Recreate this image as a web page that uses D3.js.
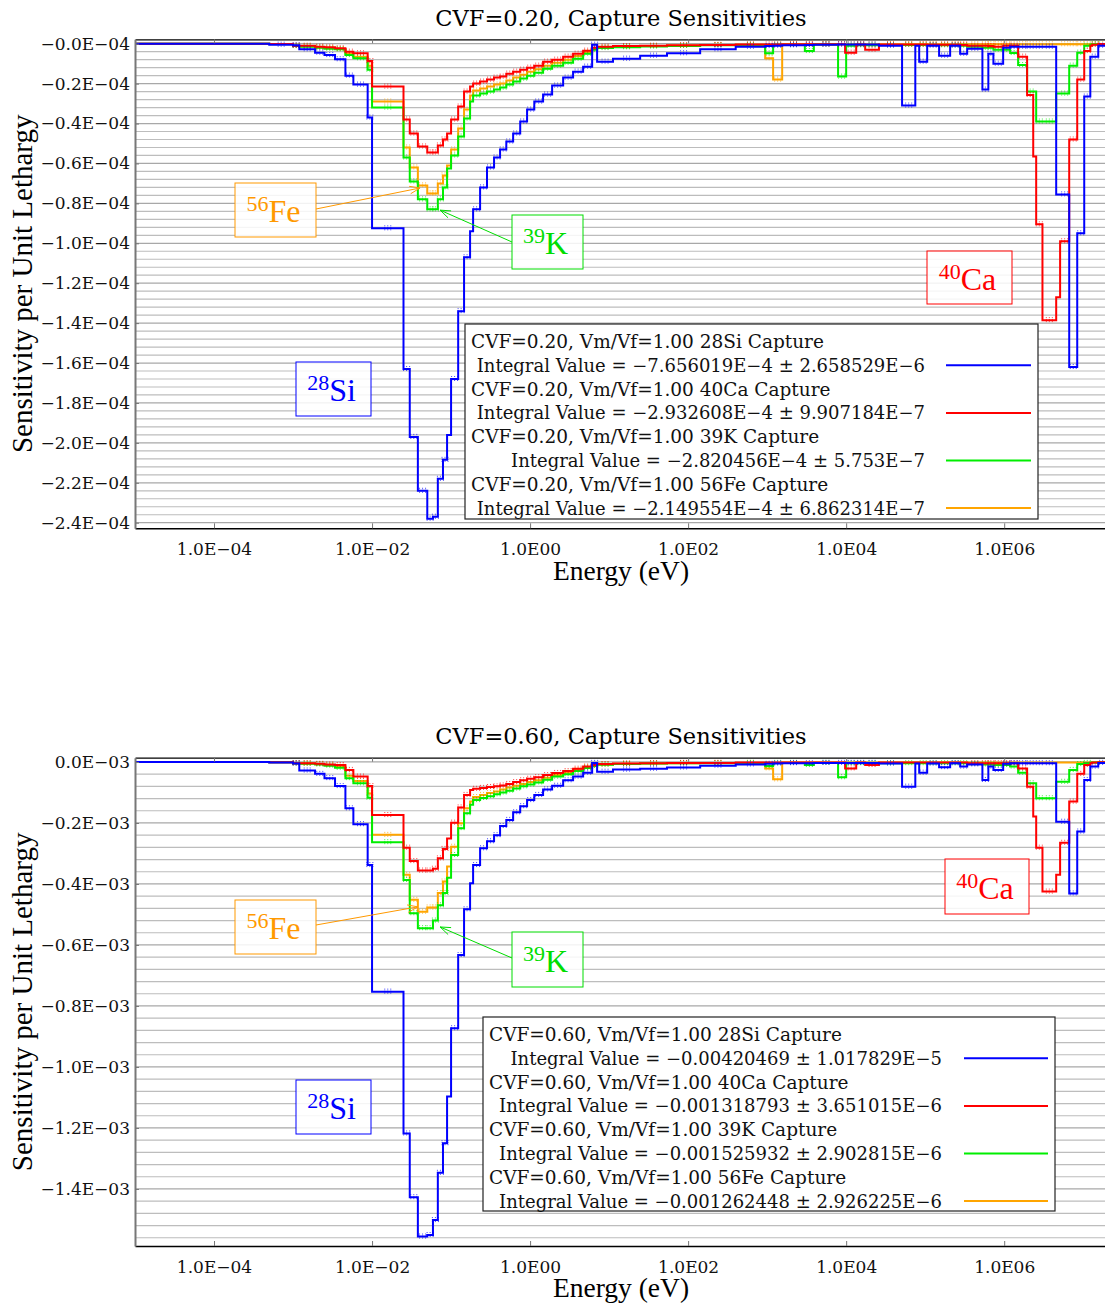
<!DOCTYPE html>
<html>
<head>
<meta charset="utf-8">
<script src="https://cdn.jsdelivr.net/npm/d3@7"></script>
<style>
  body { margin: 0; background: #fff; }
  svg text { font-family: "DejaVu Serif", serif; }
  .lbl text { font-family: "Liberation Serif", "Times New Roman", serif; }
</style>
</head>
<body>
<div id="wrapper"></div>
<script>
// energy group boundaries (eV), shared by every series
const energyEdges = [1e-5, 5e-4, 1e-3, 1.2e-3, 1.9e-3, 2.5e-3, 3.4e-3, 4.6e-3, 5.8e-3, 8.8e-3,
  0.01, 0.025, 0.03, 0.038, 0.05, 0.059, 0.068, 0.079, 0.089, 0.1,
  0.123, 0.146, 0.174, 0.19, 0.233, 0.285, 0.35, 0.417, 0.5, 0.61,
  0.75, 0.916, 1.13, 1.46, 1.9, 2.62, 3.5, 4.69, 6.1, 7.05,
  11.2, 24.7, 54, 142, 400, 944, 1190, 1550, 3000, 3900,
  7900, 9700, 1.0e4, 1.34e4, 1.74e4, 2.6e4, 5.1e4, 7.5e4, 8.4e4, 1.06e5,
  1.5e5, 2.07e5, 2.77e5, 3.4e5, 5.3e5, 6.3e5, 7.3e5, 9.7e5, 1.19e6, 1.5e6,
  1.95e6, 2.33e6, 2.54e6, 3.05e6, 4.55e6, 5.1e6, 6.65e6, 8.4e6, 1.03e7, 1.23e7,
  1.3e7, 1.55e7, 2e7]

// CVF=0.20 sensitivities, units of 1E-04 per unit lethargy
const si020 = [0, -0.005, -0.008, -0.028, -0.045, -0.057, -0.078, -0.16, -0.205, -0.37,
  -0.925, -1.63, -1.97, -2.24, -2.38, -2.37, -2.18, -2.085, -1.96, -1.68,
  -1.34, -1.07, -0.94, -0.83, -0.72, -0.62, -0.57, -0.53, -0.49, -0.45,
  -0.39, -0.33, -0.29, -0.255, -0.21, -0.17, -0.14, -0.115, -0.005, -0.09,
  -0.075, -0.06, -0.048, -0.028, -0.015, -0.012, -0.01, -0.008, -0.006, -0.005,
  -0.004, -0.004, -0.004, -0.004, -0.004, -0.01, -0.31, -0.01, -0.09, -0.01,
  -0.06, -0.01, -0.05, -0.025, -0.23, -0.05, -0.1, -0.02, -0.015, -0.015,
  -0.015, -0.015, -0.015, -0.015, -0.755, -0.755, -1.62, -0.95, -0.265, -0.065,
  -0.065, -0.01]
const ca020 = [0, -0.002, -0.01, -0.01, -0.015, -0.018, -0.023, -0.04, -0.048, -0.087,
  -0.215, -0.38, -0.45, -0.515, -0.545, -0.545, -0.51, -0.48, -0.45, -0.38,
  -0.315, -0.24, -0.215, -0.2, -0.19, -0.18, -0.17, -0.165, -0.15, -0.14,
  -0.13, -0.12, -0.11, -0.09, -0.08, -0.065, -0.05, -0.035, -0.02, -0.015,
  -0.012, -0.01, -0.008, -0.006, -0.004, -0.004, -0.004, -0.003, -0.003, -0.003,
  -0.003, -0.045, -0.045, -0.004, -0.03, -0.004, -0.004, -0.004, -0.004, -0.005,
  -0.005, -0.005, -0.006, -0.01, -0.01, -0.012, -0.015, -0.01, -0.01, -0.065,
  -0.257, -0.565, -0.905, -1.385, -1.27, -0.99, -0.48, -0.18, -0.037, -0.01,
  -0.005, -0.002]
const k020 = [0, -0.002, -0.012, -0.015, -0.02, -0.025, -0.028, -0.057, -0.073, -0.13,
  -0.32, -0.57, -0.69, -0.78, -0.83, -0.83, -0.78, -0.72, -0.625, -0.56,
  -0.465, -0.375, -0.29, -0.26, -0.25, -0.24, -0.23, -0.22, -0.205, -0.19,
  -0.175, -0.16, -0.145, -0.125, -0.11, -0.095, -0.075, -0.05, -0.03, -0.022,
  -0.018, -0.014, -0.011, -0.008, -0.006, -0.048, -0.005, -0.005, -0.037, -0.004,
  -0.165, -0.165, -0.01, -0.008, -0.008, -0.006, -0.006, -0.006, -0.006, -0.006,
  -0.008, -0.008, -0.01, -0.015, -0.02, -0.02, -0.03, -0.03, -0.047, -0.107,
  -0.24, -0.24, -0.39, -0.39, -0.25, -0.25, -0.11, -0.045, -0.01, -0.005,
  -0.003, -0.002]
const fe020 = [0, -0.002, -0.01, -0.013, -0.018, -0.022, -0.027, -0.05, -0.065, -0.11,
  -0.29, -0.52, -0.62, -0.71, -0.75, -0.75, -0.7, -0.66, -0.61, -0.53,
  -0.425, -0.33, -0.26, -0.235, -0.225, -0.215, -0.205, -0.2, -0.185, -0.17,
  -0.155, -0.14, -0.128, -0.11, -0.095, -0.08, -0.062, -0.042, -0.025, -0.018,
  -0.015, -0.012, -0.009, -0.007, -0.005, -0.073, -0.18, -0.004, -0.004, -0.003,
  -0.003, -0.003, -0.003, -0.003, -0.003, -0.003, -0.003, -0.003, -0.003, -0.003,
  -0.003, -0.003, -0.003, -0.003, -0.003, -0.003, -0.003, -0.003, -0.003, -0.003,
  -0.003, -0.003, -0.003, -0.003, -0.003, -0.003, -0.003, -0.003, -0.003, -0.003,
  -0.003, -0.003]

// CVF=0.60 sensitivities, units of 1E-03 per unit lethargy
const si060 = [0, -0.002, -0.005, -0.028, -0.039, -0.053, -0.079, -0.152, -0.204, -0.338,
  -0.753, -1.218, -1.427, -1.556, -1.551, -1.502, -1.347, -1.25, -1.097, -0.873,
  -0.633, -0.483, -0.398, -0.338, -0.283, -0.26, -0.24, -0.21, -0.19, -0.165,
  -0.145, -0.125, -0.108, -0.09, -0.078, -0.06, -0.048, -0.035, -0.003, -0.032,
  -0.025, -0.022, -0.018, -0.012, -0.008, -0.006, -0.005, -0.004, -0.004, -0.003,
  -0.003, -0.003, -0.003, -0.003, -0.003, -0.005, -0.081, -0.005, -0.035, -0.005,
  -0.017, -0.004, -0.015, -0.008, -0.059, -0.015, -0.026, -0.006, -0.004, -0.004,
  -0.004, -0.004, -0.004, -0.004, -0.196, -0.196, -0.431, -0.228, -0.059, -0.015,
  -0.015, -0.003]
const ca060 = [0, -0.001, -0.004, -0.004, -0.006, -0.008, -0.01, -0.026, -0.048, -0.079,
  -0.174, -0.281, -0.325, -0.356, -0.356, -0.35, -0.316, -0.285, -0.251, -0.199,
  -0.149, -0.108, -0.092, -0.088, -0.085, -0.082, -0.08, -0.077, -0.072, -0.066,
  -0.06, -0.055, -0.05, -0.043, -0.036, -0.03, -0.022, -0.015, -0.01, -0.007,
  -0.005, -0.004, -0.003, -0.003, -0.002, -0.002, -0.002, -0.002, -0.002, -0.002,
  -0.002, -0.021, -0.021, -0.002, -0.01, -0.002, -0.002, -0.002, -0.002, -0.002,
  -0.002, -0.002, -0.002, -0.004, -0.004, -0.004, -0.004, -0.004, -0.004, -0.021,
  -0.081, -0.179, -0.281, -0.425, -0.37, -0.265, -0.13, -0.039, -0.01, -0.004,
  -0.002, -0.001]
const k060 = [0, -0.001, -0.005, -0.006, -0.008, -0.012, -0.019, -0.053, -0.07, -0.117,
  -0.263, -0.387, -0.496, -0.545, -0.545, -0.52, -0.47, -0.43, -0.38, -0.305,
  -0.217, -0.168, -0.14, -0.125, -0.118, -0.112, -0.106, -0.1, -0.094, -0.087,
  -0.08, -0.074, -0.067, -0.058, -0.048, -0.04, -0.03, -0.02, -0.013, -0.009,
  -0.007, -0.005, -0.004, -0.004, -0.003, -0.013, -0.003, -0.003, -0.01, -0.003,
  -0.05, -0.05, -0.004, -0.004, -0.004, -0.004, -0.004, -0.004, -0.004, -0.004,
  -0.004, -0.004, -0.004, -0.006, -0.008, -0.008, -0.01, -0.01, -0.015, -0.035,
  -0.07, -0.07, -0.119, -0.119, -0.065, -0.065, -0.026, -0.007, -0.003, -0.002,
  -0.002, -0.002]
const fe060 = [0, -0.001, -0.004, -0.005, -0.007, -0.01, -0.015, -0.045, -0.062, -0.103,
  -0.239, -0.37, -0.452, -0.491, -0.477, -0.477, -0.43, -0.392, -0.343, -0.278,
  -0.201, -0.152, -0.13, -0.115, -0.108, -0.102, -0.097, -0.09, -0.084, -0.078,
  -0.072, -0.066, -0.06, -0.052, -0.043, -0.035, -0.026, -0.017, -0.011, -0.008,
  -0.006, -0.005, -0.004, -0.003, -0.003, -0.021, -0.057, -0.002, -0.002, -0.002,
  -0.002, -0.002, -0.002, -0.002, -0.002, -0.002, -0.002, -0.002, -0.002, -0.002,
  -0.002, -0.002, -0.002, -0.002, -0.002, -0.002, -0.002, -0.002, -0.002, -0.002,
  -0.002, -0.002, -0.002, -0.002, -0.002, -0.002, -0.002, -0.002, -0.002, -0.002,
  -0.002, -0.002]

const xTickValues = [1e-4, 1e-2, 1, 1e2, 1e4, 1e6]
const xTickLabels = ["1.0E−04", "1.0E−02", "1.0E00", "1.0E02", "1.0E04", "1.0E06"]

const yTicks020 = [0, -0.2, -0.4, -0.6, -0.8, -1.0, -1.2, -1.4, -1.6, -1.8, -2.0, -2.2, -2.4]
const yTickLabels020 = ["−0.0E−04", "−0.2E−04", "−0.4E−04", "−0.6E−04", "−0.8E−04", "−1.0E−04",
  "−1.2E−04", "−1.4E−04", "−1.6E−04", "−1.8E−04", "−2.0E−04", "−2.2E−04", "−2.4E−04"]
const yTicks060 = [0, -0.2, -0.4, -0.6, -0.8, -1.0, -1.2, -1.4]
const yTickLabels060 = ["0.0E−03", "−0.2E−03", "−0.4E−03", "−0.6E−03", "−0.8E−03", "−1.0E−03",
  "−1.2E−03", "−1.4E−03"]

const isotopes = ["28Si", "40Ca", "39K", "56Fe"]
const seriesColors = ["#0000ff", "#ff0000", "#00ee00", "#ffa500"]
const integral020 = ["−7.656019E−4 ± 2.658529E−6", "−2.932608E−4 ± 9.907184E−7",
  "−2.820456E−4 ± 5.753E−7", "−2.149554E−4 ± 6.862314E−7"]
const integral060 = ["−0.00420469 ± 1.017829E−5", "−0.001318793 ± 3.651015E−6",
  "−0.001525932 ± 2.902815E−6", "−0.001262448 ± 2.926225E−6"]

const panels = [
  {
    cvf: "0.20", series: [si020, ca020, k020, fe020], integrals: integral020,
    yTicks: yTicks020, yTickLabels: yTickLabels020, yDomain: [-2.428, 0.022], minorStep: 0.04,
    top: 39.3, bottom: 528.3, titleY: 26, xLabelY: 580, xTickY: 543,
    legend: {x0: 465, y0: 324, x1: 1038, y1: 519, textRight: 925, lineX: [946, 1031]},
    labels: [
      {mass: "56", sym: "Fe", color: "#ff9900", box: [235, 183, 316, 237], from: [316, 209], to: [0.0405, -0.723]},
      {mass: "39", sym: "K", color: "#00dd00", box: [512, 215, 583, 269], from: [512, 242], to: [0.0727, -0.834]},
      {mass: "28", sym: "Si", color: "#0000ff", box: [296, 362, 371, 416]},
      {mass: "40", sym: "Ca", color: "#ff0000", box: [927, 251, 1012, 304]}
    ]
  },
  {
    cvf: "0.60", series: [si060, ca060, k060, fe060], integrals: integral060,
    yTicks: yTicks060, yTickLabels: yTickLabels060, yDomain: [-1.587, 0.014], minorStep: 0.04,
    top: 757.7, bottom: 1246, titleY: 744, xLabelY: 1297, xTickY: 1261,
    legend: {x0: 483, y0: 1017, x1: 1055, y1: 1211, textRight: 942, lineX: [964, 1048]},
    labels: [
      {mass: "56", sym: "Fe", color: "#ff9900", box: [235, 900, 316, 954], from: [316, 925], to: [0.038, -0.475]},
      {mass: "39", sym: "K", color: "#00dd00", box: [512, 932, 583, 987], from: [512, 958], to: [0.0727, -0.541]},
      {mass: "28", sym: "Si", color: "#0000ff", box: [296, 1080, 371, 1134]},
      {mass: "40", sym: "Ca", color: "#ff0000", box: [945, 859, 1029, 914]}
    ]
  }
]

const width = 1105, height = 1304
const svg = d3.select("#wrapper").append("svg")
    .attr("width", width)
    .attr("height", height)

const xScale = d3.scaleLog()
    .domain([1e-5, 2e7])
    .range([135, 1107])

function drawPanel(p, pi) {
  const yScale = d3.scaleLinear()
      .domain(p.yDomain)
      .range([p.bottom, p.top])

  const g = svg.append("g")

  //grid lines
  const gridVals = d3.range(0, p.yDomain[0], -p.minorStep)
  g.append("g").selectAll("line")
      .data(gridVals).enter().append("line")
          .attr("x1", 135).attr("x2", width)
          .attr("y1", d => yScale(d)).attr("y2", d => yScale(d))
          .attr("stroke", (d, i) => i % 5 == 0 ? "#a8a8a8" : "#bdbdbd")
          .attr("stroke-width", 1.2)

  //curves
  const clipId = "clip" + pi
  svg.append("clipPath").attr("id", clipId)
    .append("rect")
      .attr("x", 135).attr("y", p.top - 2)
      .attr("width", width - 135).attr("height", p.bottom - p.top + 2)

  const line = d3.line()
      .x(d => xScale(d[0]))
      .y(d => yScale(d[1]))
      .curve(d3.curveStepAfter)

  const plot = g.append("g").attr("clip-path", `url(#${clipId})`)
  const order = [3, 2, 1, 0]
  order.forEach(si => {
    const vals = p.series[si]
    const pts = vals.map((v, i) => [energyEdges[i], v])
    pts.push([energyEdges[vals.length], vals[vals.length - 1]])
    plot.append("path")
        .attr("d", line(pts))
        .attr("fill", "none")
        .attr("stroke", seriesColors[si])
        .attr("stroke-width", 2)

    // small error hashes at bin centres
    const bars = plot.append("g")
        .attr("stroke", seriesColors[si])
        .attr("stroke-width", 1)
        .attr("stroke-dasharray", "1,1")
        .attr("opacity", 0.75)
    vals.forEach((v, i) => {
      const xa = xScale(energyEdges[i]), xb = xScale(energyEdges[i + 1])
      if (xb - xa < 4 || v > -0.003) return
      const xc = (xa + xb) / 2, yc = yScale(v)
      bars.append("path")
          .attr("d", `M${xc - 3},${yc - 3}V${yc + 3}M${xc},${yc - 3}V${yc + 3}M${xc + 3},${yc - 3}V${yc + 3}`)
    })
  })

  //axes
  const xAxisGenerator = d3.axisBottom(xScale)
      .tickValues(xTickValues)
      .tickFormat((d, i) => xTickLabels[i])
      .tickSizeInner(-5)
      .tickSizeOuter(0)
      .tickPadding(p.xTickY - p.bottom)
  const xAxis = g.append("g")
      .attr("transform", `translate(0,${p.bottom})`)
      .call(xAxisGenerator)
  xAxis.select(".domain").attr("stroke", "#000").attr("stroke-width", 1.5)
  xAxis.selectAll(".tick line").attr("stroke", "#777")
  xAxis.selectAll("text").attr("font-size", 17).attr("fill", "#111")
      .style("font-family", "DejaVu Serif")

  const topAxis = d3.axisTop(xScale)
      .tickValues(xTickValues)
      .tickFormat("")
      .tickSizeInner(-4)
      .tickSizeOuter(0)
  const tAxis = g.append("g")
      .attr("transform", `translate(0,${p.top})`)
      .call(topAxis)
  tAxis.select(".domain").attr("stroke", "#000").attr("stroke-width", 1.2)
  tAxis.selectAll(".tick line").attr("stroke", "#777")

  const yAxisGenerator = d3.axisLeft(yScale)
      .tickValues(p.yTicks)
      .tickFormat((d, i) => p.yTickLabels[i])
      .tickSizeInner(-4)
      .tickSizeOuter(0)
      .tickPadding(5)
  const yAxis = g.append("g")
      .attr("transform", "translate(135,0)")
      .call(yAxisGenerator)
  yAxis.select(".domain").attr("stroke", "#777").attr("stroke-width", 2)
  yAxis.selectAll(".tick line").attr("stroke", "#777")
  yAxis.selectAll("text").attr("font-size", 17).attr("fill", "#111")
      .style("font-family", "DejaVu Serif")

  //titles
  g.append("text")
      .attr("x", 621).attr("y", p.titleY)
      .attr("text-anchor", "middle")
      .attr("font-size", 22.5)
      .text(`CVF=${p.cvf}, Capture Sensitivities`)
  g.append("text")
      .attr("x", 621).attr("y", p.xLabelY)
      .attr("text-anchor", "middle")
      .attr("font-size", 27.5)
      .style("font-family", "Liberation Serif")
      .text("Energy (eV)")
  g.append("text")
      .attr("transform", `translate(32,${(p.top + p.bottom) / 2}) rotate(-90)`)
      .attr("text-anchor", "middle")
      .attr("font-size", 29)
      .style("font-family", "Liberation Serif")
      .text("Sensitivity per Unit Lethargy")

  //legend
  const L = p.legend
  const leg = g.append("g")
  leg.append("rect")
      .attr("x", L.x0).attr("y", L.y0)
      .attr("width", L.x1 - L.x0).attr("height", L.y1 - L.y0)
      .attr("fill", "#fff").attr("stroke", "#222").attr("stroke-width", 1.2)
  const rowH = 23.8
  isotopes.forEach((iso, i) => {
    const yA = L.y0 + 17.5 + rowH * (2 * i)
    const yB = L.y0 + 17.5 + rowH * (2 * i + 1)
    leg.append("text")
        .attr("x", L.x0 + 6).attr("y", yA + 6.5)
        .attr("font-size", 18.5).attr("fill", "#111")
        .text(`CVF=${p.cvf}, Vm/Vf=1.00 ${iso} Capture`)
    leg.append("text")
        .attr("x", L.textRight).attr("y", yB + 6.5)
        .attr("text-anchor", "end")
        .attr("font-size", 18).attr("fill", "#111")
        .text(`Integral Value = ${p.integrals[i]}`)
    leg.append("line")
        .attr("x1", L.lineX[0]).attr("x2", L.lineX[1])
        .attr("y1", yB).attr("y2", yB)
        .attr("stroke", seriesColors[i]).attr("stroke-width", 2)
  })

  //isotope labels
  const lbl = g.append("g").attr("class", "lbl")
  p.labels.forEach(l => {
    const [x0, y0, x1, y1] = l.box
    lbl.append("rect")
        .attr("x", x0).attr("y", y0)
        .attr("width", x1 - x0).attr("height", y1 - y0)
        .attr("fill", "#fff").attr("fill-opacity", 0.85)
        .attr("stroke", l.color).attr("stroke-width", 1)
    const t = lbl.append("text")
        .attr("x", (x0 + x1) / 2 - 2).attr("y", y0 + (y1 - y0) * 0.73)
        .attr("text-anchor", "middle")
        .attr("fill", l.color)
    t.append("tspan").attr("font-size", 22).attr("dy", -11).text(l.mass)
    t.append("tspan").attr("font-size", 32).attr("dy", 11).text(l.sym)
    if (l.to) {
      const tx = xScale(l.to[0]), ty = yScale(l.to[1])
      const [fx, fy] = l.from
      lbl.append("line")
          .attr("x1", fx).attr("y1", fy).attr("x2", tx).attr("y2", ty)
          .attr("stroke", l.color).attr("stroke-width", 1)
      const ang = Math.atan2(fy - ty, fx - tx)
      const hl = 11, spread = 0.35
      lbl.append("path")
          .attr("d", `M${tx + hl * Math.cos(ang - spread)},${ty + hl * Math.sin(ang - spread)}L${tx},${ty}L${tx + hl * Math.cos(ang + spread)},${ty + hl * Math.sin(ang + spread)}`)
          .attr("fill", "none").attr("stroke", l.color).attr("stroke-width", 1)
    }
  })
}

panels.forEach(drawPanel)
</script>
</body>
</html>
